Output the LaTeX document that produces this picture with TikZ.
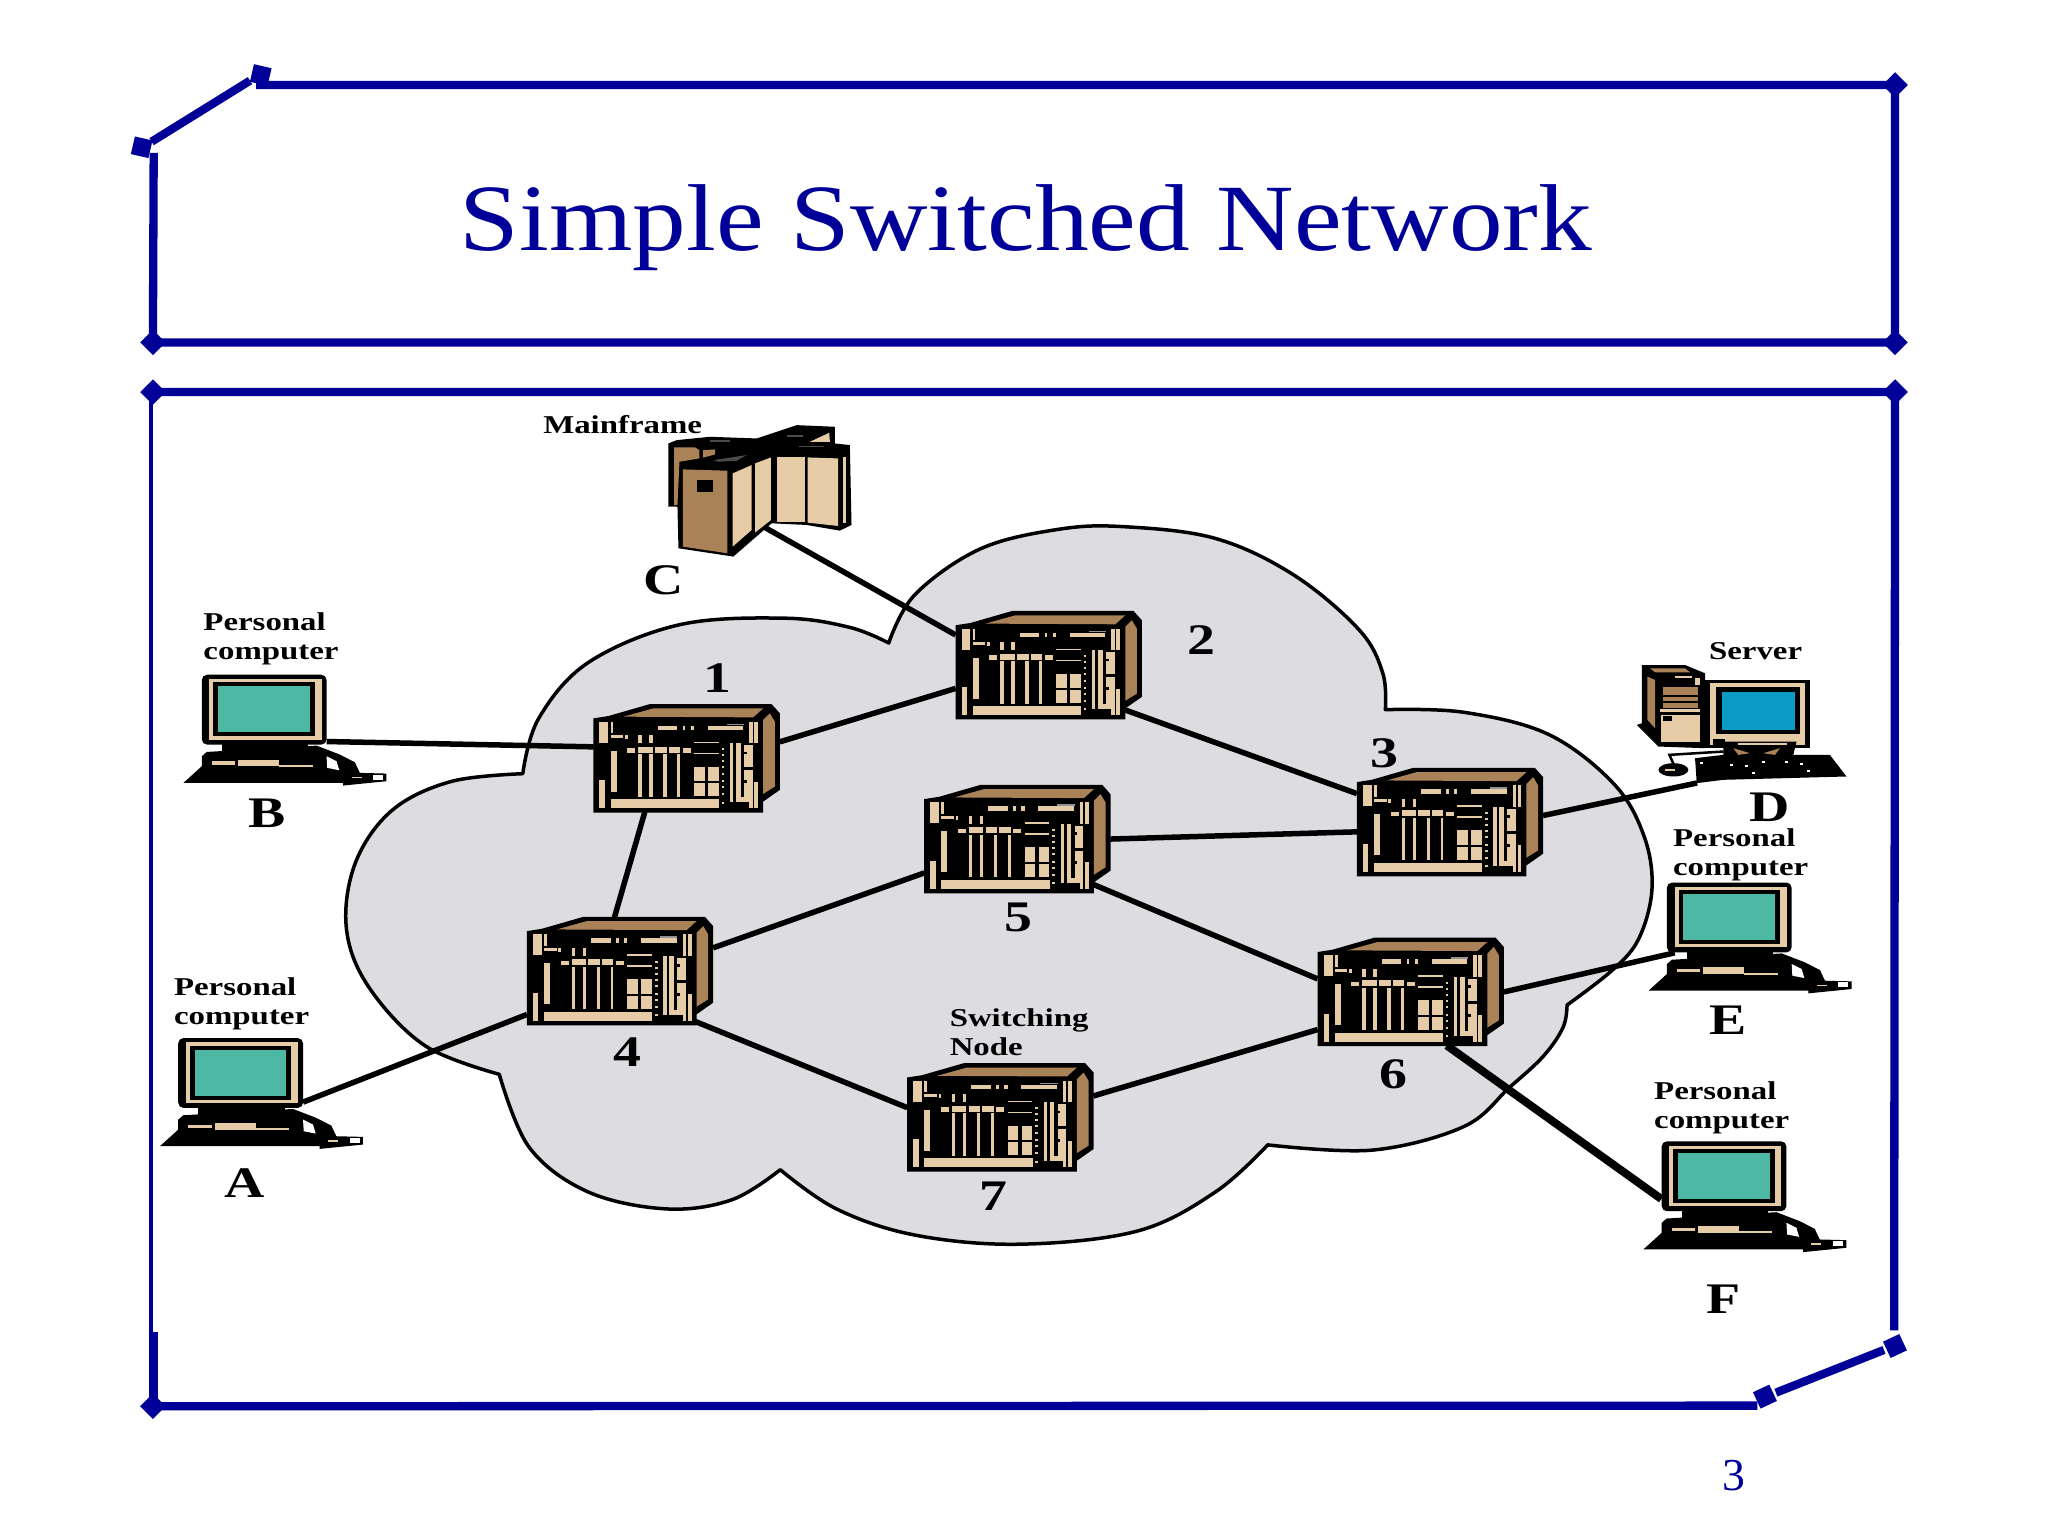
\documentclass[tikz,border=0pt]{standalone}
\usepackage{fontspec}
\setmainfont{Liberation Serif}
\usetikzlibrary{positioning, calc}
\definecolor{framblue}{RGB}{0, 0, 153}
\definecolor{cloudgray}{RGB}{221, 221, 225}
\definecolor{boxbrown}{RGB}{170, 130, 88}
\definecolor{boxtan}{RGB}{229, 203, 166}
\definecolor{screenteal}{RGB}{77, 184, 163}
\definecolor{screenblue}{RGB}{10, 156, 196}
\definecolor{boxdark}{RGB}{75, 75, 75}

\tikzset{
    partgrid/.style={x=0.003334cm, y=-0.003334cm},
    switchbox/.pic={
        \begin{scope}[partgrid, shift={(-380,-235)}]
            \fill[black] (100,115) -- (145,108) -- (270,72) -- (635,72) -- (660,100) -- (660,330) -- (610,365) -- (610,398) -- (100,398) -- cycle;
            \fill[boxbrown] (190,110) -- (280,85) -- (610,85) -- (580,112) -- cycle;
            \fill[boxbrown] (610,120) -- (630,100) -- (645,125) -- (645,320) -- (610,342) -- cycle;
            \foreach \xa/\ya/\xb/\yb in {118/125/145/188, 152/125/160/160, 293/137/352/150, 368/137/376/150, 392/137/402/150, 443/137/550/150,
                568/125/578/190, 583/125/595/190, 152/212/170/335, 118/300/135/385, 152/357/477/385, 152/165/190/175, 195/165/203/178,
                235/165/245/190, 268/165/278/190, 202/205/226/218, 235/200/278/218, 285/200/320/218, 326/200/360/218, 368/205/392/218,
                235/222/245/350, 268/222/278/350, 310/222/320/350, 352/222/360/350, 402/185/476/190, 402/218/476/223,
                402/260/434/303, 444/260/476/303, 402/310/434/348, 444/310/476/348, 510/190/520/367, 528/190/542/352, 528/352/568/367,
                552/195/578/352, 583/305/595/385, 568/305/578/385}
                \fill[boxtan] (\xa,\ya) rectangle (\xb,\yb);
            \foreach \ya in {205, 222, 240, 258, 278, 300, 318, 340, 365}
                \fill[boxtan] (485,\ya) rectangle (493,\ya+6);
            \fill[black] (552,262) rectangle (578,270);
            \fill[black] (552,215) rectangle (560,222);
            \fill[black] (552,300) rectangle (560,310);
            \fill[boxdark!60] (500,131) rectangle (552,136);
        \end{scope}
    },
    deskpc/.pic={
        \begin{scope}[partgrid, shift={(-242,-160)}]
            \fill[black, rounded corners=1.5pt] (55,55) rectangle (430,265);
            \fill[boxtan] (78,68) rectangle (415,250);
            \fill[black] (90,78) rectangle (395,240);
            \fill[screenteal] (104,90) rectangle (380,228);
            \fill[black] (115,250) rectangle (375,290);
            \fill[black] (0,380) -- (55,330) -- (55,300) -- (70,287) -- (400,268) -- (470,295) -- (515,318) -- (530,350) -- (610,352) -- (610,375) -- (480,388) -- (480,380) -- cycle;
            \fill[white] (430,300) -- (460,315) -- (468,342) -- (432,335) -- cycle;
            \fill[boxtan] (85,315) rectangle (155,325);
            \fill[boxtan] (165,310) rectangle (288,330);
            \fill[boxtan] (288,326) rectangle (388,332);
            \fill[boxtan] (100,245) rectangle (165,250);
            \fill[boxtan] (505,362) rectangle (535,366);
            \fill[white] (570,355) rectangle (600,370);
        \end{scope}
    },
    towerpc/.pic={
        \begin{scope}[partgrid, shift={(-335,-252)}]
            \fill[black] (35,75) -- (165,75) -- (225,100) -- (225,325) -- (85,320) -- (20,255) -- (35,250) -- cycle;
            \fill[boxbrown] (60,85) -- (165,85) -- (180,97) -- (75,97) -- cycle;
            \fill[boxbrown] (52,110) -- (75,120) -- (75,265) -- (52,240) -- cycle;
            \fill[boxtan] (92,225) rectangle (210,305);
            \fill[black] (100,228) rectangle (125,243);
            \fill[boxbrown] (100,142) rectangle (203,165);
            \fill[boxbrown] (100,170) rectangle (203,183);
            \fill[boxbrown] (100,188) rectangle (203,205);
            \fill[boxtan] (135,108) rectangle (185,113);
            \fill[boxtan] (90,208) rectangle (210,215);
            \fill[boxtan] (195,115) rectangle (210,135);
            \fill[black] (225,120) rectangle (540,325);
            \fill[boxtan] (240,130) rectangle (525,315);
            \fill[black] (258,142) rectangle (510,282);
            \fill[screenblue] (275,155) rectangle (495,270);
            \fill[black] (250,297) rectangle (285,315);
            \fill[black] (280,305) -- (500,305) -- (490,345) -- (600,345) -- (650,410) -- (280,420) -- (200,430) -- (195,355) -- (280,345) -- cycle;
            \fill[boxtan] (325,308) rectangle (470,315);
            \fill[boxbrown] (310,325) -- (360,340) -- (325,345) -- cycle;
            \fill[boxbrown] (450,325) -- (400,340) -- (435,345) -- cycle;
            \fill[black] (130,390) ellipse [x radius=45, y radius=20];
            \draw[black, line width=0.25mm] (130,372) -- (118,345) -- (280,335);
            \foreach \xa/\ya in {210/365, 300/372, 345/375, 395/362, 465/362, 510/368, 365/397, 530/390}
                \fill[white] (\xa,\ya) rectangle (\xa+10,\ya+6);
            \fill[boxtan] (105,388) rectangle (135,393);
        \end{scope}
    },
    mainframebox/.pic={
        \begin{scope}[partgrid, shift={(-360,-197)}]
            \fill[black] (85,100) -- (110,90) -- (210,80) -- (350,85) -- (470,45) -- (585,50) -- (585,100) -- (630,105) -- (635,345) -- (600,362) -- (500,345) -- (395,340) -- (280,440) -- (115,415) -- (112,290) -- (85,290) -- cycle;
            \fill[boxbrown] (102,112) -- (165,112) -- (178,120) -- (178,145) -- (118,155) -- (112,285) -- (102,285) -- cycle;
            \fill[boxbrown] (188,120) -- (225,118) -- (225,133) -- (188,143) -- cycle;
            \fill[boxbrown] (128,178) -- (262,182) -- (262,430) -- (128,410) -- cycle;
            \fill[black] (170,210) rectangle (220,245);
            \fill[boxtan] (278,190) -- (335,165) -- (335,360) -- (278,410) -- cycle;
            \fill[boxtan] (345,160) -- (393,142) -- (393,330) -- (345,368) -- cycle;
            \fill[boxtan] (410,142) -- (495,142) -- (495,335) -- (410,335) -- cycle;
            \fill[boxtan] (503,142) -- (595,145) -- (595,348) -- (503,338) -- cycle;
            \fill[boxtan] (610,140) rectangle (618,340);
            \fill[boxtan] (510,95) -- (568,68) -- (570,95) -- cycle;
            \fill[boxdark] (220,150) -- (320,135) -- (290,152) -- (235,155) -- cycle;
            \fill[boxdark] (210,90) rectangle (270,97);
            \fill[boxdark] (440,75) rectangle (490,80);
            \fill[boxdark] (478,108) rectangle (552,112);
        \end{scope}
    }
}

\begin{document}
\begin{tikzpicture}[
    x=0.013069cm, y=-0.013069cm,
    frameline/.style={draw=framblue, line width=0.83mm},
    thinframe/.style={draw=framblue, line width=0.4mm},
    cornermark/.style={rectangle, fill=framblue, minimum size=1.8mm, inner sep=0pt, outer sep=0pt},
    link/.style={draw=black, line width=0.55mm},
    heavylink/.style={draw=black, line width=0.8mm},
    switchport/.style={rectangle, minimum width=18.6mm, minimum height=10.7mm, inner sep=0pt, outer sep=0pt},
    pcport/.style={rectangle, minimum width=12.5mm, minimum height=7.06mm, inner sep=0pt, outer sep=0pt},
    serverport/.style={rectangle, minimum width=20.9mm, minimum height=11.8mm, inner sep=0pt, outer sep=0pt},
    mainport/.style={rectangle, minimum width=18.3mm, minimum height=10.2mm, inner sep=0pt, outer sep=0pt},
    smalltag/.style={font=\bfseries\fontsize{7.3}{8.2}\selectfont, xscale=1.28, align=left, anchor=west, inner sep=0pt},
    bigtag/.style={font=\bfseries\fontsize{12.4}{14}\selectfont, xscale=1.28, inner sep=0pt}
]
\useasboundingbox (0,0) rectangle (1567,1175.25);

% Title frame
\node[cornermark, rotate=45] (titlene) at (1450,65) {};
\node[cornermark, rotate=45] (titlese) at (1450,262) {};
\node[cornermark, rotate=45] (titlesw) at (117,262) {};
\node[cornermark, rotate=-13] (cutlow) at (108.4,112.7) {};
\node[cornermark, rotate=-13] (cuthigh) at (199.5,57.4) {};
\coordinate (titlestart) at (196,65);
\coordinate (titleend) at (117.6,117);
\coordinate (cutlowend) at (116,108.4);
\coordinate (cuthighend) at (191.3,61.7);
\draw[frameline] (titlestart) -- (titlene.center) -- (titlese.center) -- (titlesw.center) -- (titleend);
\draw[frameline] (cutlowend) -- (cuthighend);

\node[text=framblue, font=\fontsize{27}{32}\selectfont, xscale=1.13, anchor=base] (title) at (785,192) {Simple Switched Network};

% Body frame
\node[cornermark, rotate=45] (bodynw) at (117,300) {};
\node[cornermark, rotate=45] (bodyne) at (1450,300) {};
\node[cornermark, rotate=45] (bodysw) at (117,1076) {};
\node[cornermark, rotate=25] (cutright) at (1449.9,1029.9) {};
\node[cornermark, rotate=25] (cutbottom) at (1350.4,1068.6) {};
\coordinate (bodyrightend) at (1449.3,1018);
\coordinate (bodybottomend) at (1344.6,1075.5);
\coordinate (cutrightend) at (1441.5,1032.9);
\coordinate (cutbottomend) at (1358.8,1065.6);
\coordinate (bodylefttop) at (115.7,300);
\coordinate (bodyleftbreak) at (115.7,1019);
\coordinate (bodyleftthick) at (117.4,1019);
\coordinate (bodyleftlow) at (117.4,1076);
\draw[frameline] (bodynw.center) -- (bodyne.center) -- (bodyrightend);
\draw[frameline] (bodysw.center) -- (bodybottomend);
\draw[frameline] (cutrightend) -- (cutbottomend);
\draw[thinframe] (bodylefttop) -- (bodyleftbreak);
\draw[frameline] (bodyleftthick) -- (bodyleftlow);

% Cloud
\fill[cloudgray, draw=black, line width=0.35mm, line join=round]
    plot[smooth, tension=0.6] coordinates {(680,492) (700,455) (750,420) (810,405) (860,403) (930,412) (990,440) (1040,482) (1058,515) (1060,543)}
    -- plot[smooth, tension=0.6] coordinates {(1060,543) (1120,545) (1185,562) (1235,600) (1258,640) (1264,680) (1254,718) (1234,742) (1199,769)}
    -- plot[smooth, tension=0.6] coordinates {(1199,769) (1196,786) (1181,808) (1155,832) (1120,862) (1050,880) (970,876)}
    -- plot[smooth, tension=0.6] coordinates {(970,876) (930,912) (870,942) (780,952) (700,945) (640,925) (597,895)}
    -- plot[smooth, tension=0.6] coordinates {(597,895) (560,918) (510,925) (450,912) (405,878) (382,822)}
    -- plot[smooth, tension=0.6] coordinates {(382,822) (325,800) (282,755) (265,710) (272,660) (300,620) (345,598) (400,592)}
    -- plot[smooth, tension=0.6] coordinates {(400,592) (412,550) (450,507) (520,478) (600,473) (650,480) (680,492)}
    -- cycle;

% Switching nodes
\node[switchport] (sw1) at (525.4,580.2) {};
\node[switchport] (sw2) at (802.4,509) {};
\node[switchport] (sw3) at (1109.4,629) {};
\node[switchport] (sw4) at (474.4,743) {};
\node[switchport] (sw5) at (778.4,642) {};
\node[switchport] (sw6) at (1079.4,759) {};
\node[switchport] (sw7) at (765.4,855) {};

% Stations
\node[pcport] (pca) at (184,821) {};
\node[pcport] (pcb) at (202,543) {};
\node[mainport] (mainc) at (581.5,364) {};
\node[serverport] (serverd) at (1332.6,553.9) {};
\node[pcport] (pce) at (1323,702) {};
\node[pcport] (pcf) at (1319,900) {};

% Links
\draw[link] (pcb.333) -- (sw1.173);
\draw[link] (sw1.10) -- (sw2.194);
\draw[link] (sw1.232) -- (sw4.96);
\draw[link] (sw4.14) -- (sw5.200);
\draw[link] (pca.335) -- (sw4.205);
\draw[link] ($(sw4)!0.37!(sw4.south)$) -- (sw7.174);
\draw[link] (sw5.0) -- (sw3.186);
\draw[link] ($(sw5)!0.25!(sw5.south)$) -- (sw6.172);
\draw[link] (sw7.13) -- (sw6.202);
\draw[link] ($(sw2)!0.32!(sw2.south)$) -- (sw3.163);
\draw[link] (mainc.274) -- (sw2.162);
\draw[link] (sw3.4) -- (serverd.233.5);
\draw[link] (sw6.0) -- (pce.213);
\draw[heavylink] (sw6.304) -- (pcf.200);

% Pictures of the equipment
\foreach \boxname in {sw1, sw2, sw3, sw4, sw5, sw6, sw7}
    \pic at (\boxname) {switchbox};
\foreach \boxname in {pca, pcb, pce, pcf}
    \pic at (\boxname) {deskpc};
\pic at (serverd) {towerpc};
\pic at (mainc) {mainframebox};

% Numbers
\node[bigtag] (num1) at (549,519) {1};
\node[bigtag] (num2) at (919,490) {2};
\node[bigtag] (num3) at (1059,576) {3};
\node[bigtag] (num4) at (480,805) {4};
\node[bigtag] (num5) at (779,702) {5};
\node[bigtag] (num6) at (1066,822) {6};
\node[bigtag] (num7) at (760,915) {7};

% Letters
\node[bigtag] (leta) at (187,905) {A};
\node[bigtag] (letb) at (204,622) {B};
\node[bigtag] (letc) at (508,444) {C};
\node[bigtag] (letd) at (1354,618) {D};
\node[bigtag] (lete) at (1322,781) {E};
\node[bigtag] (letf) at (1319,994) {F};

% Small labels
\node[smalltag] (tagmain) at (415,325) {Mainframe};
\node[smalltag] (tagserver) at (1307,498) {Server};
\node[smalltag] (tagb) at (155,489) {Personal\\computer};
\node[smalltag] (taga) at (132.5,768) {Personal\\computer};
\node[smalltag] (tage) at (1279.5,654) {Personal\\computer};
\node[smalltag] (tagf) at (1265,847.5) {Personal\\computer};
\node[smalltag] (tagsw) at (726,789.5) {Switching\\Node};

% Page number
\node[text=framblue, font=\fontsize{13}{15}\selectfont, inner sep=0pt] (page) at (1327,1129) {3};

\end{tikzpicture}
\end{document}
